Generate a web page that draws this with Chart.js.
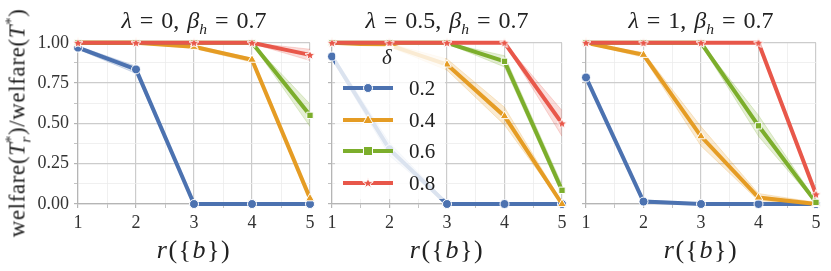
<!DOCTYPE html>
<html><head><meta charset="utf-8">
<script src="https://cdn.jsdelivr.net/npm/chart.js@4.4.0/dist/chart.umd.min.js"></script>
<style>
body{margin:0;width:831px;height:271px;background:#fff;position:relative;overflow:hidden;font-family:"Liberation Serif",serif;color:#222}
canvas{position:absolute;top:27px}
.t{position:absolute;white-space:nowrap;transform:translate(-50%,-50%);font-size:24px;line-height:1;word-spacing:2px}
.xl{position:absolute;white-space:nowrap;transform:translate(-50%,-50%);font-size:26px;line-height:1;letter-spacing:1.5px}
.yl{position:absolute;white-space:nowrap;left:17px;top:123px;transform:translate(-50%,-50%) rotate(-90deg);font-size:23px;line-height:1;letter-spacing:0.6px}
sub,sup{font-size:65%;line-height:0}
#leg{position:absolute;left:335px;top:46px;width:110px;height:153px;background:rgba(255,255,255,0.8);border-radius:3px}
#leg .h{position:absolute;left:8px}
#leg .l{position:absolute;left:74px;font-size:21px;line-height:1;transform:translateY(-50%)}
</style></head><body>
<canvas id="c0" width="320" height="210" style="left:0px"></canvas>
<canvas id="c1" width="250" height="210" style="left:322px"></canvas>
<canvas id="c2" width="250" height="210" style="left:576px"></canvas>
<div class="t" style="left:194px;top:20px"><i>λ</i> = 0, <i>β<sub>h</sub></i> = 0.7</div>
<div class="t" style="left:447px;top:20px"><i>λ</i> = 0.5, <i>β<sub>h</sub></i> = 0.7</div>
<div class="t" style="left:701px;top:20px"><i>λ</i> = 1, <i>β<sub>h</sub></i> = 0.7</div>
<div class="xl" style="left:194px;top:250px"><i>r</i>({<i>b</i>})</div>
<div class="xl" style="left:447px;top:250px"><i>r</i>({<i>b</i>})</div>
<div class="xl" style="left:701px;top:250px"><i>r</i>({<i>b</i>})</div>
<div class="yl">welfare(<i>T</i><sub style="margin-right:-7px"><i>r</i></sub><sup>*</sup>)/welfare(<i>T</i><sup>*</sup>)</div>
<div id="leg"></div>
<script>
const xValues = [1, 2, 3, 4, 5];
const deltaLabels = ['0.2', '0.4', '0.6', '0.8'];
const yTickLabels = ['0.00', '0.25', '0.50', '0.75', '1.00'];

// lambda = 0
const l0_d02 = [0.97, 0.835, 0.0, 0.0, 0.0];
const l0_d04 = [1.0, 1.0, 0.975, 0.895, 0.035];
const l0_d06 = [1.0, 1.0, 1.0, 1.0, 0.55];
const l0_d08 = [1.0, 1.0, 1.0, 1.0, 0.925];
const l0_lo = [[0.96, 0.81, 0, 0, 0], [1, 0.995, 0.965, 0.88, 0.02], [1, 1, 1, 0.995, 0.48], [1, 1, 1, 0.995, 0.89]];
const l0_hi = [[0.98, 0.855, 0.005, 0, 0], [1, 1, 0.985, 0.905, 0.05], [1, 1, 1, 1, 0.62], [1, 1, 1, 1, 0.96]];

// lambda = 0.5
const l05_d02 = [0.915, 0.34, 0.0, 0.0, 0.0];
const l05_d04 = [1.0, 0.985, 0.865, 0.545, 0.0];
const l05_d06 = [1.0, 1.0, 1.0, 0.885, 0.085];
const l05_d08 = [1.0, 1.0, 1.0, 1.0, 0.5];
const l05_lo = [[0.9, 0.3, 0, 0, 0], [1, 0.975, 0.83, 0.49, 0], [1, 1, 0.995, 0.85, 0.06], [1, 1, 1, 1, 0.42]];
const l05_hi = [[0.93, 0.38, 0.01, 0, 0], [1, 0.995, 0.9, 0.6, 0.01], [1, 1, 1, 0.92, 0.12], [1, 1, 1, 1, 0.58]];

// lambda = 1
const l1_d02 = [0.785, 0.015, 0.0, 0.0, 0.0];
const l1_d04 = [1.0, 0.925, 0.42, 0.04, 0.0];
const l1_d06 = [1.0, 1.0, 1.0, 0.485, 0.01];
const l1_d08 = [1.0, 1.0, 1.0, 1.0, 0.06];
const l1_lo = [[0.78, 0.005, 0, 0, 0], [0.995, 0.91, 0.36, 0.02, 0], [1, 1, 0.99, 0.42, 0.005], [1, 1, 1, 1, 0.045]];
const l1_hi = [[0.79, 0.025, 0.005, 0, 0], [1, 0.94, 0.48, 0.065, 0.01], [1, 1, 1, 0.55, 0.02], [1, 1, 1, 1, 0.075]];

const colors = ['#4c72b0', '#e59c24', '#7cae2c', '#e8574a'];
const rgb = ['76,114,176', '229,156,36', '124,174,44', '232,87,74'];

function starCanvas(color) {
  const c = document.createElement('canvas');
  c.width = 12; c.height = 12;
  const g = c.getContext('2d');
  g.beginPath();
  for (let k = 0; k < 10; k++) {
    const r = k % 2 === 0 ? 5.2 : 2.3;
    const a = -Math.PI / 2 + k * Math.PI / 5;
    const px = 6 + r * Math.cos(a), py = 6.4 + r * Math.sin(a);
    k === 0 ? g.moveTo(px, py) : g.lineTo(px, py);
  }
  g.closePath();
  g.fillStyle = color; g.fill();
  g.strokeStyle = '#fff'; g.lineWidth = 1; g.stroke();
  return c;
}
const markers = ['circle', 'triangle', 'rect', starCanvas(colors[3])];
const radii = [4.5, 5, 4.5, 5];
const tickFont = {family: 'Liberation Serif', size: 18};

function buildDatasets(means, los, his) {
  const ds = [];
  for (let i = 0; i < 4; i++) {
    ds.push({data: xValues.map((x, j) => ({x, y: los[i][j]})), borderColor: `rgba(${rgb[i]},0.22)`, borderWidth: 1, pointRadius: 0, fill: false, order: 10 + i});
    ds.push({data: xValues.map((x, j) => ({x, y: his[i][j]})), borderColor: `rgba(${rgb[i]},0.22)`, borderWidth: 1, pointRadius: 0, fill: '-1', backgroundColor: `rgba(${rgb[i]},0.2)`, order: 10 + i});
    ds.push({data: xValues.map((x, j) => ({x, y: means[i][j]})), borderColor: colors[i], borderWidth: 4, pointStyle: markers[i], pointRadius: radii[i], pointBackgroundColor: colors[i], pointBorderColor: '#fff', pointBorderWidth: 1, fill: false, clip: false, order: 4 - i});
  }
  return ds;
}

function makeChart(id, means, los, his, yWidth, showY) {
  return new Chart(document.getElementById(id), {
    type: 'line',
    data: {datasets: buildDatasets(means, los, his)},
    options: {
      responsive: false, animation: false, events: [],
      layout: {padding: {top: 10, right: 10, bottom: 0, left: 0}},
      plugins: {legend: {display: false}, tooltip: {enabled: false}},
      elements: {line: {tension: 0}},
      scales: {
        x: {
          type: 'linear', min: 1, max: 5,
          ticks: {stepSize: 0.5, autoSkip: false, maxRotation: 0, padding: 4, color: '#333',
            font: tickFont,
            callback: v => Number.isInteger(v) ? String(v) : ''},
          grid: {color: c => (c.tick && Number.isInteger(c.tick.value)) ? '#cccccc' : '#ececec',
            lineWidth: c => (c.tick && Number.isInteger(c.tick.value)) ? 1.2 : 0.8,
            tickColor: '#b5b5b5', tickLength: 4},
          border: {color: '#b5b5b5', width: 1.2},
          afterFit: s => { s.height = 33; }
        },
        y: {
          min: 0, max: 1,
          ticks: {stepSize: 0.125, autoSkip: false, padding: 5, color: '#333',
            font: tickFont,
            callback: v => (showY && Math.round(v * 8) % 2 === 0) ? yTickLabels[Math.round(v * 4)] : ''},
          grid: {color: c => (c.tick && Math.round(c.tick.value * 8) % 2 === 0) ? '#cccccc' : '#ececec',
            lineWidth: c => (c.tick && Math.round(c.tick.value * 8) % 2 === 0) ? 1.2 : 0.8,
            tickColor: '#b5b5b5', tickLength: 4},
          border: {color: '#b5b5b5', width: 1.2},
          afterFit: s => { s.width = yWidth; }
        }
      }
    }
  });
}

makeChart('c0', [l0_d02, l0_d04, l0_d06, l0_d08], l0_lo, l0_hi, 78, true);
makeChart('c1', [l05_d02, l05_d04, l05_d06, l05_d08], l05_lo, l05_hi, 10, false);
makeChart('c2', [l1_d02, l1_d04, l1_d06, l1_d08], l1_lo, l1_hi, 10, false);

// legend
const leg = document.getElementById('leg');
const title = document.createElement('div');
title.className = 'l'; title.style.left = '47px'; title.style.top = '11px';
title.innerHTML = '<i>δ</i>';
leg.appendChild(title);
const rowsY = [42, 74, 105, 137];
const shapes = [
  c => `<circle cx="25" cy="7" r="4.5" fill="${c}" stroke="#fff" stroke-width="1"/>`,
  c => `<polygon points="25,1.5 30,10.5 20,10.5" fill="${c}" stroke="#fff" stroke-width="1"/>`,
  c => `<rect x="20.5" y="2.5" width="9" height="9" fill="${c}" stroke="#fff" stroke-width="1"/>`,
  c => `<polygon points="25,1.8 26.4,5.6 30.3,5.7 27.2,8.1 28.3,11.9 25,9.6 21.7,11.9 22.8,8.1 19.7,5.7 23.6,5.6" fill="${c}" stroke="#fff" stroke-width="1"/>`
];
deltaLabels.forEach((lab, i) => {
  const h = document.createElement('div');
  h.className = 'h'; h.style.top = (rowsY[i] - 7) + 'px';
  h.innerHTML = `<svg width="50" height="14"><line x1="0" y1="7" x2="50" y2="7" stroke="${colors[i]}" stroke-width="4"/>${shapes[i](colors[i])}</svg>`;
  leg.appendChild(h);
  const l = document.createElement('div');
  l.className = 'l'; l.style.top = rowsY[i] + 'px';
  l.textContent = lab;
  leg.appendChild(l);
});
</script>
</body></html>
